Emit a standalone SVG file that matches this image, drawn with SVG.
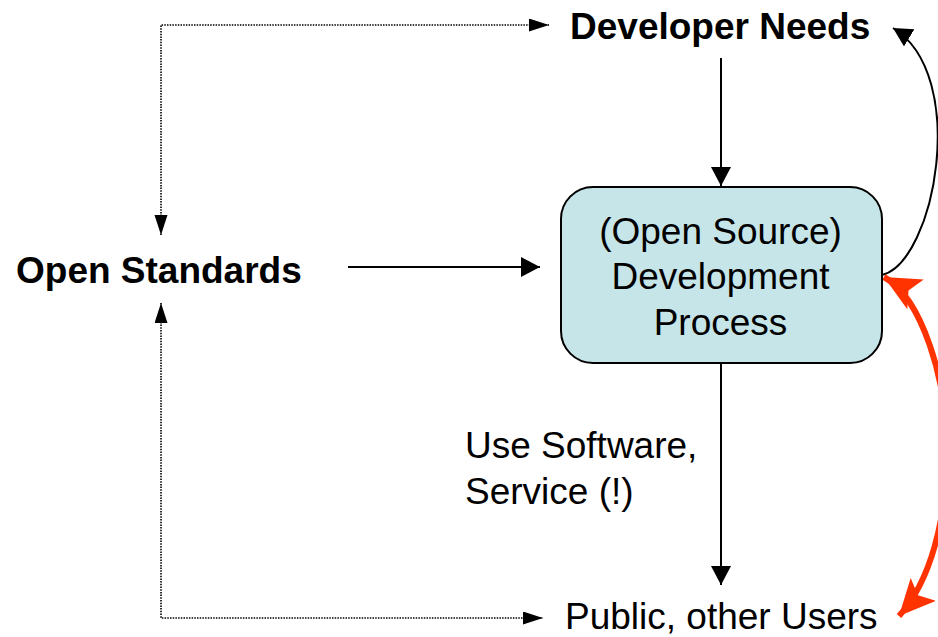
<svg xmlns="http://www.w3.org/2000/svg" width="938" height="637" viewBox="0 0 938 637">
  <style>
    text { font-family: "Liberation Sans", Arial, sans-serif; fill: #000; }
    .bold { font-weight: bold; font-size: 37px; }
    .reg { font-size: 37px; }
    .solid { fill: none; stroke: #000; stroke-width: 2; }
    .dotted { fill: none; stroke: #000; stroke-width: 1.6; stroke-dasharray: 1.5 1.2; }
    .red { fill: none; stroke: #ff3300; stroke-width: 6; }
  </style>
  <defs>
    <marker id="headSolid" markerUnits="userSpaceOnUse" markerWidth="20" markerHeight="21" refX="19" refY="10" orient="auto">
      <path d="M0,0 L19,10 L0,20 z" fill="#000"/>
    </marker>
    <marker id="headDot" markerUnits="userSpaceOnUse" markerWidth="21" markerHeight="14" refX="20" refY="6.5" orient="auto-start-reverse">
      <path d="M0,0 L20,6.5 L0,13 z" fill="#000"/>
    </marker>
    <marker id="headRed" markerUnits="userSpaceOnUse" markerWidth="38" markerHeight="36" refX="36" refY="17" orient="auto-start-reverse">
      <path d="M0,0 L36,17 L0,34 L8,17 z" fill="#ff3300"/>
    </marker>
  </defs>

  <g id="connectors">
    <!-- dotted two-way links around Open Standards -->
    <path class="dotted" d="M161,235 V25 H549" marker-start="url(#headDot)" marker-end="url(#headDot)"/>
    <path class="dotted" d="M161,303 V618 H543" marker-start="url(#headDot)" marker-end="url(#headDot)"/>
    <!-- solid flows into and out of the process -->
    <path class="solid" d="M721,58 V186" marker-end="url(#headSolid)"/>
    <path class="solid" d="M348,267 H540" marker-end="url(#headSolid)"/>
    <path class="solid" d="M721,363 V585" marker-end="url(#headSolid)"/>
    <!-- loop back to developer needs -->
    <path class="solid" d="M882,275 C935,262 970,75 893,28" marker-end="url(#headSolid)"/>
    <!-- red two-way link between process and users -->
    <path class="red" d="M884,277 C922,298 947,380 947,450 C947,520 930,582 899,616" marker-start="url(#headRed)" marker-end="url(#headRed)"/>
  </g>

  <g id="developer-needs">
    <text class="bold" x="570" y="39">Developer Needs</text>
  </g>

  <g id="open-standards">
    <text class="bold" x="16" y="283">Open Standards</text>
  </g>

  <g id="development-process">
    <rect x="561" y="187" width="321" height="176" rx="32" ry="32" fill="#c6e5e8" stroke="#000" stroke-width="2"/>
    <text class="reg" x="720.5" y="244" text-anchor="middle">(Open Source)</text>
    <text class="reg" x="720.5" y="289" text-anchor="middle">Development</text>
    <text class="reg" x="720.5" y="335" text-anchor="middle">Process</text>
  </g>

  <g id="use-label">
    <text class="reg" x="465" y="458">Use Software,</text>
    <text class="reg" x="465" y="504">Service (!)</text>
  </g>

  <g id="public-users">
    <text class="reg" x="565" y="629">Public, other Users</text>
  </g>
</svg>
